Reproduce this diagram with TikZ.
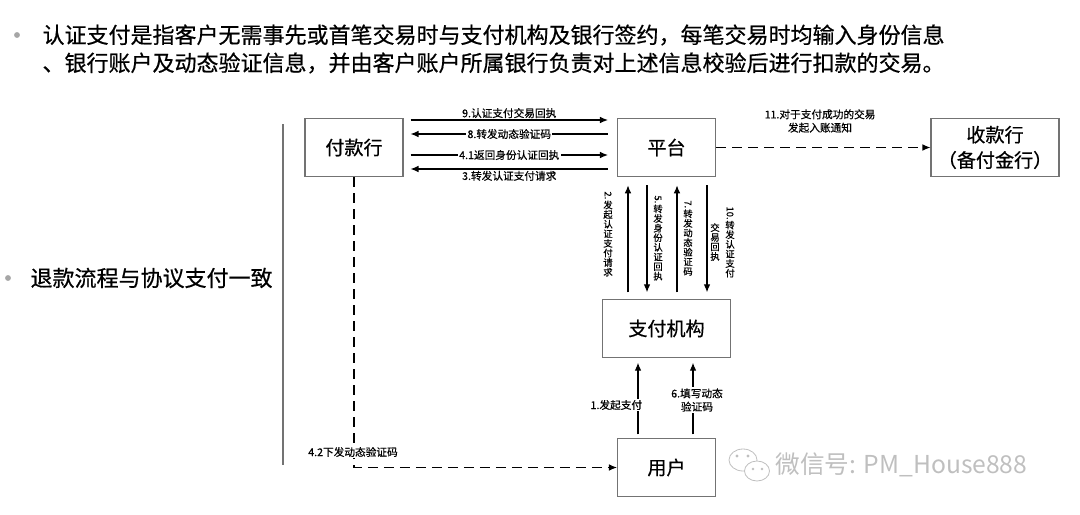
\documentclass[tikz,border=0pt]{standalone}
\usepackage{fontspec}
\setmainfont{Noto Sans CJK SC}[RawFeature={embolden=0.6}]
\newfontfamily\wmfont{Noto Sans CJK SC}
\usepackage{graphicx}
\usetikzlibrary{arrows.meta,positioning}

\begin{document}
\begin{tikzpicture}[x=0.75pt,y=-0.75pt,>={Latex[length=6pt,width=5pt]},line width=0.85pt,
  box/.style={draw=black!55,line width=0.8pt,minimum width=73.5pt,minimum height=44pt,
    align=center,font=\fontsize{14.3}{19}\selectfont},
  lab/.style={font=\fontsize{8}{10}\selectfont,inner sep=1pt},
  vlab/.style={font=\fontsize{7}{7.2}\selectfont,align=center,inner sep=0pt},
  dline/.style={dash pattern=on 7.5pt off 4.5pt}]

  \useasboundingbox (0,0) rectangle (1080,514);

  % bullets
  \fill[black!35] (17,35) circle (2.2pt);
  \node[anchor=west,inner sep=0pt,font=\fontsize{16.5}{20}\selectfont] (t1) at (42,35)
    {认证支付是指客户无需事先或首笔交易时与支付机构及银行签约，每笔交易时均输入身份信息};
  \node[anchor=west,inner sep=0pt,font=\fontsize{16.5}{20}\selectfont] (t2) at (42,63)
    {、银行账户及动态验证信息，并由客户账户所属银行负责对上述信息校验后进行扣款的交易。};
  \fill[black!35] (8,278) circle (2.2pt);
  \node[anchor=west,inner sep=0pt,font=\fontsize{16.5}{20}\selectfont] (t3) at (30,278)
    {退款流程与协议支付一致};
  \draw[black!55] (283,124) -- (283,465);

  % boxes
  \node[box] (pay) at (354,147.5) {付款行};
  \node[box] (plat) at (666.5,147.5) {平台};
  \node[box,minimum width=96pt] (recv) at (995,147.5) {收款行\\（备付金行）};
  \node[box,minimum width=96pt,minimum height=43pt] (inst) at (666.5,328.5) {支付机构};
  \node[box,minimum height=43pt] (user) at (666.5,467.5) {用户};

  % pay <-> plat
  \draw[->] ([shift={(7,-27.5)}]pay.east) -- node[lab,above] (l9) {9.认证支付交易回执}
    ([shift={(-9,-27.5)}]plat.west);
  \draw[<-] ([shift={(7,-13.5)}]pay.east) -- node[lab,fill=white] (l8) {8.转发动态验证码}
    ([shift={(-9,-13.5)}]plat.west);
  \draw[->] ([shift={(7,7.5)}]pay.east) -- node[lab,fill=white] (l41) {4.1返回身份认证回执}
    ([shift={(-9,7.5)}]plat.west);
  \draw[<-] ([shift={(7,21.5)}]pay.east) -- node[lab,below] (l3) {3.转发认证支付请求}
    ([shift={(-9,21.5)}]plat.west);

  % plat <-> inst
  \draw[->] ([shift={(-38.5,-7)}]inst.north) -- ([shift={(-38.5,8)}]plat.south);
  \draw[<-] ([shift={(-19.5,-7)}]inst.north) -- ([shift={(-19.5,8)}]plat.south);
  \draw[->] ([shift={(10.5,-7)}]inst.north) -- ([shift={(10.5,8)}]plat.south);
  \draw[<-] ([shift={(40.5,-7)}]inst.north) -- ([shift={(40.5,8)}]plat.south);
  \node[vlab] (l2) at (608,234) {\rotatebox{-90}{2.}\\发\\起\\认\\证\\支\\付\\请\\求};
  \node[vlab] (l5) at (658,238) {\rotatebox{-90}{5.}\\转\\发\\身\\份\\认\\证\\回\\执};
  \node[vlab] (l7) at (688,238) {\rotatebox{-90}{7.}\\转\\发\\动\\态\\验\\证\\码};
  \node[vlab] (l10) at (730,242) {\rotatebox{-90}{10.}\\转\\发\\认\\证\\支\\付};
  \node[vlab] (l10b) at (715,242) {交\\易\\回\\执};

  % user -> inst
  \draw[->] ([shift={(-28.5,-4)}]user.north) -- ([shift={(-28.5,5)}]inst.south);
  \draw[->] ([shift={(26.5,-4)}]user.north) -- ([shift={(26.5,5)}]inst.south);
  \node[lab,fill=white,anchor=east] (l1) at (644,405) {1.发起支付};
  \node[lab,fill=white,align=center] (l6) at (697,400) {6.填写动态\\验证码};

  % dashed
  \draw[->,dline] (plat.east) -- (recv.west);
  \node[lab,align=center] (l11) at (820,121) {11.对于支付成功的交易\\发起入账通知};
  \draw[->,dline] (pay.south) |- (user.west);
  \node[lab,fill=white] (l42) at (353,452) {4.2下发动态验证码};

  % watermark
  \begin{scope}[draw=black!25,line width=0.6pt]
    \draw (743,460) ellipse (14 and 11);
    \draw[fill=white] (757,471) ellipse (12.5 and 10);
    \fill[black!25] (737,456) circle (1.2pt) (748,456) circle (1.2pt)
      (753,469) circle (1.1pt) (762,469) circle (1.1pt);
  \end{scope}
  \node[anchor=west,inner sep=0pt,text=black!25,font=\wmfont\fontsize{18.5}{20}\selectfont] (wm) at (775,465)
    {微信号: PM\_House888};
\end{tikzpicture}
\end{document}
